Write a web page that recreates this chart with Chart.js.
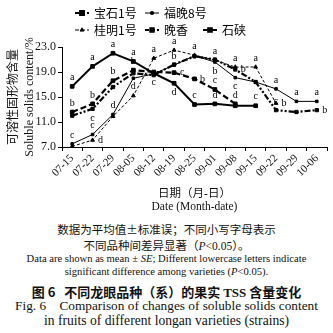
<!DOCTYPE html>
<html>
<head>
<meta charset="utf-8">
<script src="https://cdn.jsdelivr.net/npm/chart.js@4.4.0/dist/chart.umd.min.js"></script>
<style>
  body { margin: 0; background: #fff; width: 333px; height: 333px; overflow: hidden; position: relative; }
  #wrap { position: absolute; left: 0; top: 0; width: 333px; height: 215px; }
  .cap { position: absolute; left: 0; width: 333px; text-align: center; white-space: nowrap; color: #111;
         font-family: 'Liberation Serif', 'Noto Sans CJK SC', serif; }
  .zh { font-family: 'Noto Sans CJK SC', sans-serif; }
</style>
</head>
<body>
<div id="wrap"><canvas id="tss" width="333" height="215"></canvas></div>

<div class="cap zh" style="top:221px;font-size:11.5px;">数据为平均值±标准误；不同小写字母表示</div>
<div class="cap zh" style="top:237px;font-size:11.5px;">不同品种间差异显著（<i style="font-family:'Liberation Serif'">P</i><span style="font-family:'Liberation Serif'">&lt;0.05</span>）。</div>
<div class="cap" style="top:253px;font-size:10.6px;">Data are shown as mean ± <i>SE</i>; Different lowercase letters indicate</div>
<div class="cap" style="top:266px;font-size:10.6px;">significant difference among varieties (<i>P</i>&lt;0.05).</div>
<div class="cap zh" style="top:282px;font-size:13px;font-weight:bold;">图 6&nbsp;&nbsp;&nbsp;不同龙眼品种（系）的果实 <span style="font-family:'Liberation Serif'">TSS</span> 含量变化</div>
<div class="cap" style="top:298px;font-size:13.3px;">Fig. 6&nbsp;&nbsp;&nbsp;&nbsp;Comparison of changes of soluble solids content</div>
<div class="cap" style="top:313px;font-size:13.6px;">in fruits of different longan varieties (strains)</div>

<script>
// sampling dates
var dates = ['07-15', '07-22', '07-29', '08-05', '08-12', '08-19', '08-25', '09-01', '09-08', '09-15', '09-22', '09-29', '10-06'];

// soluble solids content (%) per variety
var baoshi1 = [12.6, 13.9, 17.6, 19.3, 19.0, 18.9, 17.9, 16.2, 13.9, null, null, null, null];
var fuwan8 = [7.5, 9.0, 12.2, 18.0, 18.7, 20.1, 21.6, 20.6, 18.1, 17.4, 16.3, 14.3, 14.3];
var guiming1 = [7.1, 8.1, 11.9, 15.2, 21.2, 22.5, 21.7, 20.9, 19.8, 19.8, 14.0, null, null];
var wanxiang = [12.0, 13.1, 16.6, 18.8, 18.5, 20.2, 21.5, 21.0, 19.4, 17.4, 12.9, 12.6, 12.9];
var shixia = [16.7, 19.9, 22.0, 20.7, 18.8, 17.2, 13.8, 13.9, 13.6, 13.6, null, null, null];

// significance letters
var baoshi1Sig = ['b', 'b', 'b', 'b', null, 'c', 'b', 'c', 'd', null, null, null, null];
var fuwan8Sig = ['c', 'c', 'd', null, null, 'b', null, 'b', 'c', null, 'a', 'a', 'a'];
var guiming1Sig = [null, 'd', null, 'd', 'a', 'a', 'a', 'a', 'a', 'a', 'b', null, null];
var wanxiangSig = [null, 'c', null, null, null, null, null, null, 'b', null, 'c', null, 'b'];
var shixiaSig = ['a', 'a', 'a', 'a', 'c', 'd', 'c', 'd', null, 'c', null, null, null];

// where each letter sits relative to its point (u = above, d = below, r = right)
var baoshi1Side = 'uuuuurruu';
var fuwan8Side = 'uuuuuuudduuuu';
var guiming1Side = 'urruuuuuuuru';
var wanxiangSide = 'udduuuuuruuur';
var shixiaSide = 'uuuudduuuu';

var serif = "'Liberation Serif', 'Noto Sans CJK SC', serif";

// the five series, in the order they appear in the legend
var series = [
  { label: '宝石1号', data: baoshi1, sig: baoshi1Sig, side: baoshi1Side, width: 2.2, dash: [6, 3], style: 'rect', r: 2.6 },
  { label: '福晚8号', data: fuwan8, sig: fuwan8Sig, side: fuwan8Side, width: 1, dash: [], style: 'rect', r: 1.8 },
  { label: '桂明1号', data: guiming1, sig: guiming1Sig, side: guiming1Side, width: 1, dash: [3, 2], style: 'triangle', r: 2.2 },
  { label: '晚香', data: wanxiang, sig: wanxiangSig, side: wanxiangSide, width: 2.2, dash: [6, 2, 2, 2, 2, 2], style: 'rect', r: 2.3 },
  { label: '石硖', data: shixia, sig: shixiaSig, side: shixiaSide, width: 2, dash: [], style: 'rect', r: 2.6 }
];

// legend spots: [line start x, y]
var legendPos = [[75, 13], [145, 13], [75, 30], [145, 30], [203, 30]];

var legendPlugin = {
  id: 'handLegend',
  afterDraw: function(chart) {
    var ctx = chart.ctx;
    ctx.save();
    series.forEach(function(s, i) {
      var x = legendPos[i][0], y = legendPos[i][1];
      ctx.strokeStyle = '#000';
      ctx.fillStyle = '#000';
      ctx.lineWidth = s.width;
      ctx.setLineDash(s.dash.length ? [4, 2] : []);
      ctx.beginPath();
      ctx.moveTo(x, y);
      ctx.lineTo(x + 14, y);
      ctx.stroke();
      ctx.setLineDash([]);
      Chart.helpers.drawPoint(ctx, { pointStyle: s.style, radius: s.r, borderWidth: 1 }, x + 7, y);
      ctx.font = "12px 'Noto Sans CJK SC', " + serif;
      ctx.textBaseline = 'middle';
      ctx.textAlign = 'left';
      ctx.fillText(s.label, x + 19, y);
    });
    ctx.restore();
  }
};

var lettersPlugin = {
  id: 'sigLetters',
  afterDatasetsDraw: function(chart) {
    var ctx = chart.ctx;
    ctx.save();
    ctx.font = '10px ' + serif;
    ctx.fillStyle = '#000';
    ctx.textAlign = 'center';
    ctx.textBaseline = 'middle';
    series.forEach(function(s, i) {
      var meta = chart.getDatasetMeta(i);
      s.sig.forEach(function(letter, j) {
        if (!letter || s.data[j] == null) return;
        var pt = meta.data[j];
        var side = s.side.charAt(j) || 'u';
        var x = pt.x, y = pt.y;
        if (side === 'u') y -= 9;
        else if (side === 'd') y += 9;
        else if (side === 'r') x += 8;
        ctx.fillText(letter, x, y);
      });
    });
    ctx.restore();
  }
};

var ctx = document.getElementById('tss').getContext('2d');
var chart = new Chart(ctx, {
  type: 'line',
  data: {
    labels: dates,
    datasets: series.map(function(s) {
      return {
        label: s.label,
        data: s.data,
        borderColor: '#000',
        backgroundColor: '#000',
        borderWidth: s.width,
        borderDash: s.dash,
        pointStyle: s.style,
        pointRadius: s.r,
        pointBorderWidth: 1,
        tension: 0,
        spanGaps: false
      };
    })
  },
  options: {
    responsive: false,
    animation: false,
    devicePixelRatio: 1,
    layout: { padding: { top: 47, right: 6, left: 6, bottom: 0 } },
    plugins: { legend: { display: false }, tooltip: { enabled: false } },
    scales: {
      x: {
        offset: true,
        grid: { offset: true, drawOnChartArea: false, drawTicks: true, tickLength: 4, color: '#000' },
        border: { color: '#000', width: 1 },
        ticks: { color: '#111', font: { family: serif, size: 11 }, maxRotation: 45, minRotation: 45, padding: 1, autoSkip: false },
        title: {
          display: true,
          text: ['日期（月-日）', 'Date (Month-date)'],
          color: '#111',
          font: { family: serif, size: 11.5, lineHeight: 1.1 },
          padding: { top: 4, bottom: 2 }
        },
        afterFit: function(scale) { scale.height = 68; }
      },
      y: {
        min: 7,
        max: 23,
        grid: { drawOnChartArea: false, tickLength: 4, color: '#000' },
        border: { color: '#000', width: 1 },
        ticks: {
          stepSize: 2,
          color: '#111',
          font: { family: serif, size: 12 },
          padding: 2,
          callback: function(v) { return v.toFixed(1); }
        },
        title: {
          display: true,
          text: ['可溶性固形物含量', 'Soluble solids content/%'],
          color: '#111',
          font: { family: serif, size: 12, lineHeight: 1.3 },
          padding: { top: 0, bottom: 1 }
        },
        afterFit: function(scale) { scale.width = 56; }
      }
    }
  },
  plugins: [legendPlugin, lettersPlugin]
});
</script>
</body>
</html>
